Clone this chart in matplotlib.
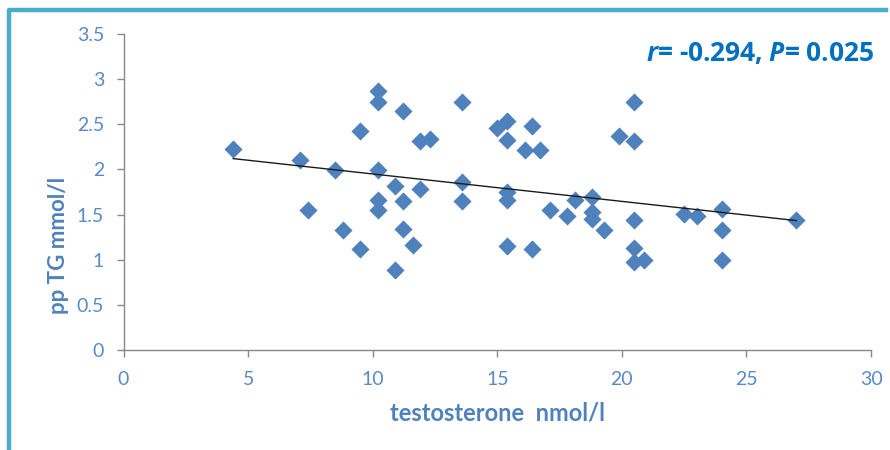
import matplotlib.pyplot as plt
import numpy as np
from matplotlib.lines import Line2D
from matplotlib.transforms import IdentityTransform

# 数据
testo = [4.4, 7.1, 7.4, 8.5, 8.8, 9.5, 9.5, 10.2, 10.2, 10.2, 10.2, 10.2,
         10.9, 10.9, 11.2, 11.2, 11.2, 11.6, 11.9, 12.3, 11.9, 13.6, 13.6, 13.6,
         15.0, 15.4, 15.4, 15.4, 15.4, 15.4, 16.1, 16.4, 16.7, 16.4, 17.1, 17.8,
         18.1, 18.8, 18.8, 18.8, 19.3, 19.9, 20.5, 20.5, 20.5, 20.5, 20.5, 20.9,
         22.5, 23.0, 24.0, 24.0, 24.0, 27.0]
pptg = [2.23, 2.10, 1.55, 1.99, 1.33, 2.43, 1.12, 2.87, 2.75, 1.99, 1.66, 1.55,
        0.89, 1.82, 2.65, 1.65, 1.34, 1.16, 2.31, 2.34, 1.78, 2.75, 1.86, 1.65,
        2.46, 2.54, 2.33, 1.75, 1.66, 1.15, 2.21, 2.48, 2.21, 1.12, 1.55, 1.48,
        1.66, 1.70, 1.53, 1.45, 1.33, 2.37, 2.75, 2.31, 1.44, 1.13, 0.97, 1.00,
        1.51, 1.48, 1.56, 1.33, 1.00, 1.44]
x_ticks = [0, 5, 10, 15, 20, 25, 30]
y_ticks = [0, 0.5, 1, 1.5, 2, 2.5, 3, 3.5]
y_tick_labels = ['0', '0.5', '1', '1.5', '2', '2.5', '3', '3.5']

blue = '#4F81BD'
plt.rcParams['font.family'] = ['Lato', 'DejaVu Sans']
plt.rcParams['mathtext.fontset'] = 'custom'
plt.rcParams['mathtext.it'] = 'Open Sans:italic:bold'
plt.rcParams['mathtext.rm'] = 'Open Sans:bold'

fig = plt.figure(figsize=(8.9, 4.5), dpi=100)
ax = fig.add_axes([0.1388, 0.2222, 0.9787 - 0.1388, 0.9244 - 0.2222])

# 散点
ax.scatter(testo, pptg, marker='D', s=85, color=blue, linewidths=0, zorder=3)

# 线性趋势线
fit = np.polyfit(testo, pptg, 1)
xl = np.array([min(testo), max(testo)])
ax.plot(xl, np.polyval(fit, xl), color='#1a1a1a', lw=1.0, zorder=4)

# 坐标轴
ax.set_xlim(0, 30)
ax.set_ylim(0, 3.5)
ax.set_xticks(x_ticks)
ax.set_yticks(y_ticks)
ax.set_yticklabels(y_tick_labels)
for s in ['top', 'right']:
    ax.spines[s].set_visible(False)
for s in ['left', 'bottom']:
    ax.spines[s].set_color('#898989')
    ax.spines[s].set_linewidth(1.0)
ax.tick_params(colors='#898989', labelcolor='#5A8AC6', labelsize=14, length=5, width=1)
ax.tick_params(axis='x', pad=10)
ax.tick_params(axis='y', pad=9)

ax.set_xlabel('testosterone  nmol/l', color=blue, fontsize=17, fontweight='bold',
              family=['Liberation Sans Narrow', 'Lato'], labelpad=10)
ax.set_ylabel('pp TG mmol/l', color=blue, fontsize=16, fontweight='bold')
ax.yaxis.set_label_coords(-0.073, 0.332)

# 相关系数标注
fig.text(0.983, 0.882, r'$r$= -0.294, $P$= 0.025', color='#0070C0',
         fontsize=19, fontweight='bold', family='Open Sans', ha='right', va='center')

# 外框 (左边和上边)
frame = Line2D([8.8, 8.8, 886], [-5, 440.3, 440.3], transform=IdentityTransform(),
               color='#4BACC6', lw=3.2, solid_joinstyle='round')
fig.add_artist(frame)

fig.savefig('out.png', dpi=100)
